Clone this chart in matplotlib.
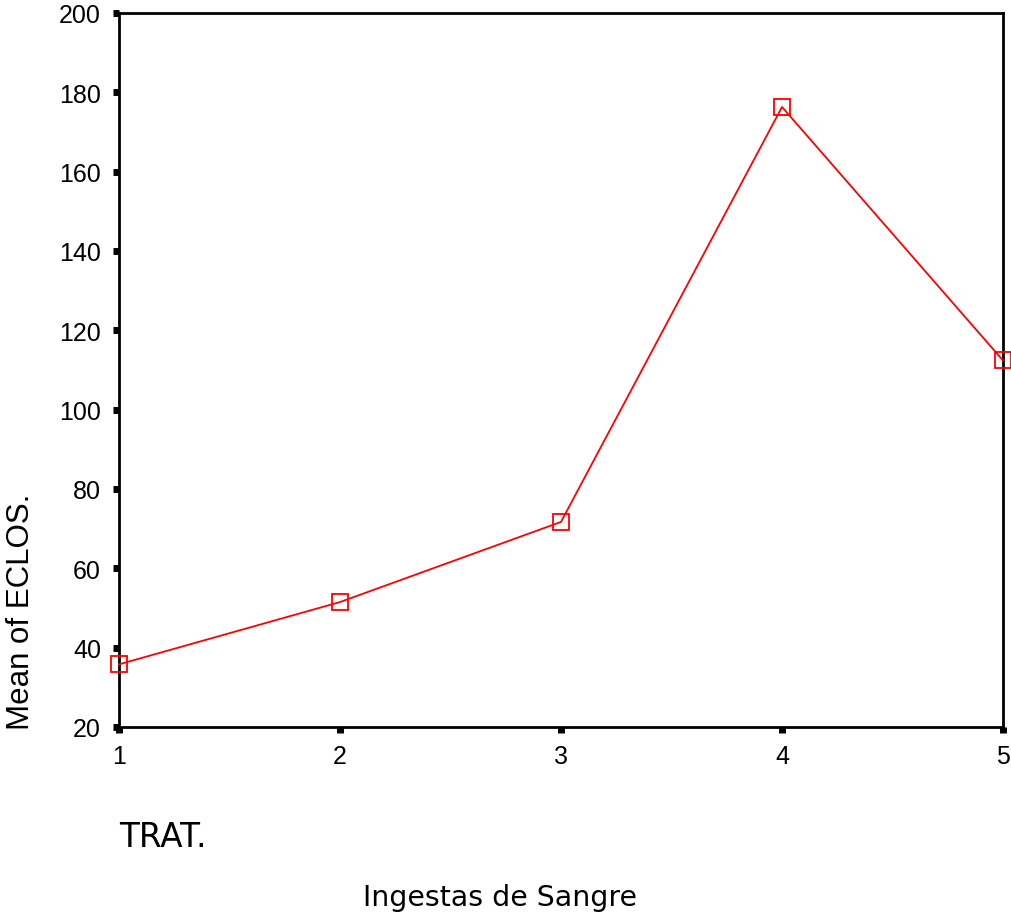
import matplotlib
matplotlib.use("Agg")
import matplotlib.pyplot as plt

trat = [1, 2, 3, 4, 5]
mean_eclos = [35.8, 51.5, 71.7, 176.3, 112.4]
y_ticks = [20, 40, 60, 80, 100, 120, 140, 160, 180, 200]

fig = plt.figure(figsize=(10.12, 9.2), dpi=100)
ax = fig.add_axes([0.1176, 0.2087, 0.8735, 0.7761])

ax.plot(trat, mean_eclos, color="#ff0000", lw=1.3, marker="s", ms=11,
        mfc="none", mec="#ff0000", mew=1.3, clip_on=False, zorder=3)

ax.set_xlim(1, 5)
ax.set_ylim(20, 200)
ax.set_xticks(trat)
ax.set_yticks(y_ticks)
for s in ax.spines.values():
    s.set_linewidth(2)
ax.tick_params(direction="out", length=4, width=5, color="black",
               labelsize=18)
ax.tick_params(axis="y", pad=9)
ax.tick_params(axis="x", pad=8)
for lab in ax.get_xticklabels() + ax.get_yticklabels():
    lab.set_fontfamily("Liberation Sans")

fig.text(0.021, 0.335, "Mean of ECLOS.", rotation=90, ha="center", va="center",
         fontsize=22.5, family="Liberation Sans")
fig.text(0.118, 0.090, "TRAT.", ha="left", va="center", fontsize=23.5,
         family="DejaVu Sans")
fig.text(0.494, 0.024, "Ingestas de Sangre", ha="center", va="center",
         fontsize=20.4, family="DejaVu Sans")

fig.savefig("out.png", dpi=100)
